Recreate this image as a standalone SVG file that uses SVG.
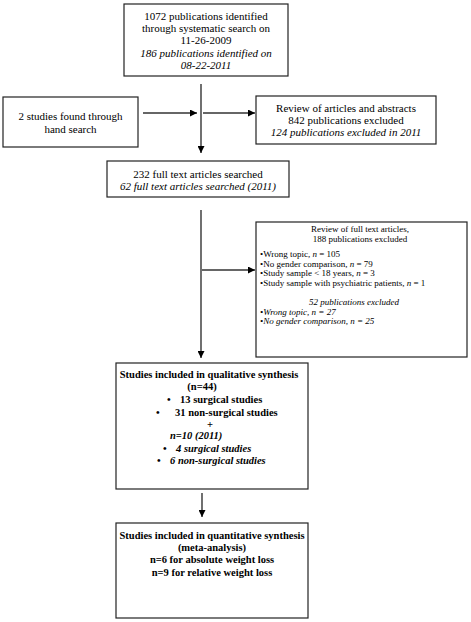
<svg xmlns="http://www.w3.org/2000/svg" width="471" height="622" viewBox="0 0 471 622">
<style>
.box{fill:#fff;stroke:#222;stroke-width:1.2}
.t{font-family:"Liberation Serif","Times New Roman",serif;font-size:11px;fill:#000}
.s{font-family:"Liberation Serif","Times New Roman",serif;font-size:9px;fill:#000}
.b{font-family:"Liberation Serif","Times New Roman",serif;font-size:10.5px;font-weight:bold;fill:#000}
.c{text-anchor:middle}
.i{font-style:italic}
.v{fill:none;stroke:#111;stroke-width:1.2}
.h{fill:none;stroke:#666;stroke-width:2}
</style>
<defs>
<marker id="ah" markerUnits="userSpaceOnUse" markerWidth="7" markerHeight="7" refX="7" refY="3.5" orient="auto">
<path d="M0,0 L7,3.5 L0,7 z" fill="#000"/>
</marker>
</defs>
<g id="connectors">
<path class="v" d="M201,84 V153" marker-end="url(#ah)"/>
<path class="h" d="M143,113 H197" marker-end="url(#ah)"/>
<path class="h" d="M203,113 H255" marker-end="url(#ah)"/>
<path class="v" d="M201,210 V358" marker-end="url(#ah)"/>
<path class="h" d="M202,270 H255" marker-end="url(#ah)"/>
<path class="v" d="M202,493 V517" marker-end="url(#ah)"/>
</g>
<g id="n-identified">
<rect class="box" x="124" y="4" width="164" height="72"/>
<text class="t c" x="206" y="19.5">1072 publications identified</text>
<text class="t c" x="206" y="31.5">through systematic search on</text>
<text class="t c" x="206" y="44">11-26-2009</text>
<text class="t c i" x="206" y="56.5">186 publications identified on</text>
<text class="t c i" x="206" y="69">08-22-2011</text>
</g>
<g id="n-hand">
<rect class="box" x="3" y="97" width="135" height="50"/>
<text class="t c" x="70.5" y="120">2 studies found through</text>
<text class="t c" x="70.5" y="133">hand search</text>
</g>
<g id="n-review">
<rect class="box" x="256" y="96" width="180" height="48"/>
<text class="t c" x="346" y="112">Review of articles and abstracts</text>
<text class="t c" x="346" y="124">842 publications excluded</text>
<text class="t c i" x="346" y="136">124 publications excluded in 2011</text>
</g>
<g id="n-fulltext">
<rect class="box" x="107" y="161" width="182" height="36"/>
<text class="t c" x="198" y="178">232 full text articles searched</text>
<text class="t c i" x="198" y="190">62 full text articles searched (2011)</text>
</g>
<g id="n-excluded">
<rect class="box" x="256" y="222" width="211" height="135"/>
<text class="s c" x="360" y="232">Review of full text articles,</text>
<text class="s c" x="360" y="242">188 publications excluded</text>
<text class="s" x="260" y="257">•Wrong topic, <tspan class="i">n</tspan> = 105</text>
<text class="s" x="260" y="266.5">•No gender comparison, <tspan class="i">n</tspan> = 79</text>
<text class="s" x="260" y="276">•Study sample &lt; 18 years, <tspan class="i">n</tspan> = 3</text>
<text class="s" x="260" y="285.5">•Study sample with psychiatric patients, <tspan class="i">n</tspan> = 1</text>
<text class="s c i" x="354" y="305">52 publications excluded</text>
<text class="s i" x="260" y="314.5">•Wrong topic, n = 27</text>
<text class="s i" x="260" y="324">•No gender comparison, n = 25</text>
</g>
<g id="n-qualitative">
<rect class="box" x="116" y="363" width="192" height="126"/>
<text class="b c" x="209" y="378">Studies included in qualitative synthesis</text>
<text class="b c" x="202" y="390">(n=44)</text>
<text class="b" x="167" y="403">•</text>
<text class="b" x="180" y="403">13 surgical studies</text>
<text class="b" x="156" y="416">•</text>
<text class="b" x="175" y="416">31 non-surgical studies</text>
<text class="b c" x="210" y="428">+</text>
<text class="b i" x="170" y="439">n=10 (2011)</text>
<text class="b" x="163" y="452">•</text>
<text class="b i" x="176" y="452">4 surgical studies</text>
<text class="b" x="157" y="464">•</text>
<text class="b i" x="170" y="464">6 non-surgical studies</text>
</g>
<g id="n-quantitative">
<rect class="box" x="116" y="523" width="192" height="95"/>
<text class="b c" x="212" y="539">Studies included in quantitative synthesis</text>
<text class="b c" x="212" y="551">(meta-analysis)</text>
<text class="b c" x="212" y="563">n=6 for absolute weight loss</text>
<text class="b c" x="212" y="576">n=9 for relative weight loss</text>
</g>
</svg>
